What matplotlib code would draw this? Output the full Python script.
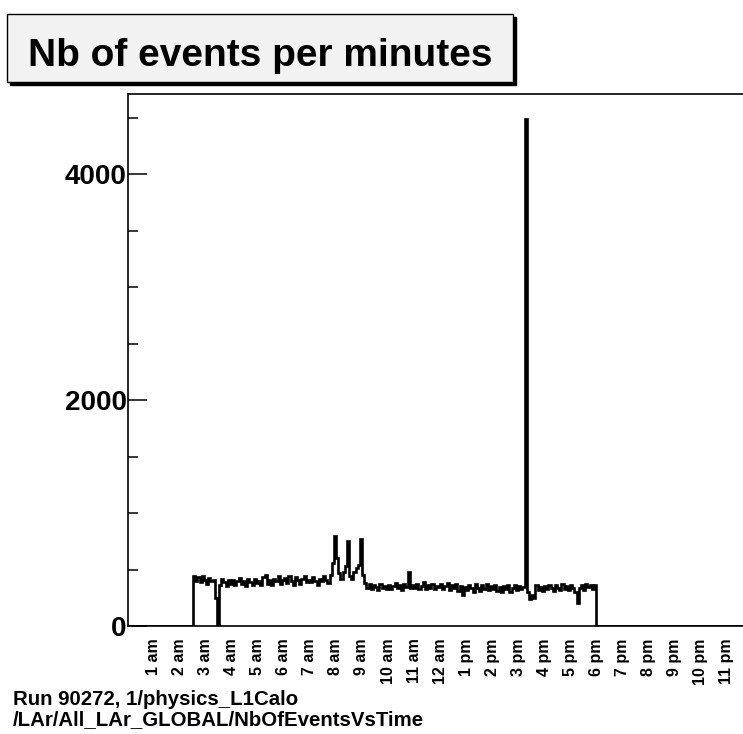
import numpy as np
import matplotlib
matplotlib.use("Agg")
import matplotlib.pyplot as plt
from matplotlib.patches import Rectangle

plt.rcParams['font.family'] = ['Liberation Sans', 'DejaVu Sans']

# events per 5-minute bin, from 2:30 am to 6:00 pm
rate_0230 = [445, 400, 430, 385, 440, 405]
rate_03 = [370, 425, 395, 410, 250, 0, 360, 420, 385, 350, 405, 375]
rate_04 = [410, 360, 395, 425, 370, 400, 355, 415, 390, 365, 420, 380]
rate_05 = [400, 365, 430, 455, 375, 410, 360, 420, 395, 440, 375, 405]
rate_06 = [425, 380, 440, 395, 360, 430, 405, 375, 420, 445, 385, 410]
rate_07 = [390, 430, 400, 365, 420, 395, 440, 410, 380, 450, 560, 795]
rate_08 = [600, 470, 420, 480, 530, 755, 440, 415, 480, 510, 540, 770]
rate_09 = [450, 380, 340, 370, 330, 365, 345, 320, 375, 340, 355, 330]
rate_10 = [365, 330, 350, 380, 335, 360, 320, 370, 345, 480, 335, 365]
rate_11 = [340, 375, 330, 355, 390, 325, 360, 340, 370, 330, 355, 345]
rate_12 = [370, 325, 350, 380, 320, 360, 335, 375, 310, 350, 275, 345]
rate_13 = [320, 365, 335, 300, 370, 340, 310, 360, 330, 375, 315, 350]
rate_14 = [330, 360, 310, 345, 300, 355, 325, 365, 305, 340, 360, 320]
rate_15 = [350, 325, 345, 4490, 300, 240, 275, 250, 360, 320, 345, 310]
rate_16 = [355, 325, 360, 335, 310, 365, 340, 320, 370, 330, 355, 315]
rate_17 = [360, 335, 305, 200, 340, 365, 320, 375, 345, 360, 330, 365]

hour_labels = ["1 am", "2 am", "3 am", "4 am", "5 am", "6 am", "7 am", "8 am",
               "9 am", "10 am", "11 am", "12 am", "1 pm", "2 pm", "3 pm", "4 pm",
               "5 pm", "6 pm", "7 pm", "8 pm", "9 pm", "10 pm", "11 pm"]
hour_ticks = list(range(1, 24))

active = np.concatenate([rate_0230, rate_03, rate_04, rate_05, rate_06, rate_07,
                         rate_08, rate_09, rate_10, rate_11, rate_12, rate_13,
                         rate_14, rate_15, rate_16, rate_17])
# empty before 2:30 am and after 6 pm
counts = np.concatenate([np.zeros(30), active, np.zeros(72)])
edges = np.arange(len(counts) + 1) / 12.0

fig = plt.figure(figsize=(7.43, 7.34), dpi=100)

# title box with drop shadow
bx, by, bw, bh = 7 / 743, (734 - 82) / 734, 506 / 743, 68 / 734
fig.patches.append(Rectangle((bx + 3 / 743, by - 3 / 734), bw, bh, transform=fig.transFigure,
                             facecolor='black', edgecolor='black', lw=1))
fig.patches.append(Rectangle((bx, by), bw, bh, transform=fig.transFigure,
                             facecolor='#f2f2f2', edgecolor='black', lw=1))
fig.text(260 / 743, (734 - 66) / 734, "Nb of events per minutes",
         fontweight='bold', fontsize=28, ha='center', va='baseline')

ax = fig.add_axes([128 / 743, (734 - 626) / 734, 624 / 743, 532 / 734])
ax.stairs(counts, edges, color='black', lw=1.9)

ax.set_xlim(0, 24)
ax.set_ylim(0, 4708)
ax.set_xticks(hour_ticks)
ax.set_xticklabels(hour_labels, rotation=90, fontsize=11.5, fontweight='bold', va='top')
ax.tick_params(axis='x', length=0, pad=9)

ax.set_yticks([0, 2000, 4000])
ax.set_yticks(np.arange(500, 4700, 500), minor=True)
ax.tick_params(axis='y', which='major', direction='in', length=14, width=1.1,
               labelsize=20, pad=1)
ax.tick_params(axis='y', which='minor', direction='in', length=7, width=1.1)
for lab in ax.get_yticklabels():
    lab.set_fontweight('bold')
for s in ax.spines.values():
    s.set_linewidth(1.2)

fig.text(13 / 743, (734 - 705) / 734, "Run 90272, 1/physics_L1Calo",
         fontsize=14.7, fontweight='bold', va='baseline')
fig.text(13 / 743, (734 - 725) / 734, "/LAr/All_LAr_GLOBAL/NbOfEventsVsTime",
         fontsize=14.7, fontweight='bold', va='baseline')

fig.savefig("out.png", dpi=100)
